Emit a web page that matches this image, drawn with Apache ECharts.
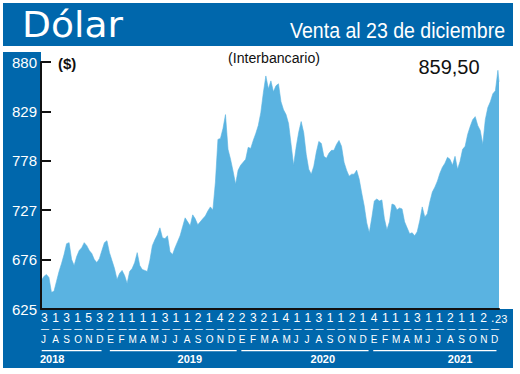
<!DOCTYPE html>
<html><head><meta charset="utf-8">
<script src="https://cdn.jsdelivr.net/npm/echarts@6/dist/echarts.min.js"></script>
<style>html,body{margin:0;padding:0;background:#fff}#c{width:520px;height:374px}</style>
</head><body><div id="c"></div>
<script>
// ---------- DATA ----------
const seriesStart = '2018-07-02';   // first weekly reading
const seriesEnd = '2021-12-23';     // last reading
const weeklyValues = [
654.5, 658.6, 660.6, 657.6, 642.2, 643.2, 653.5, 663.7, 671.9, 681.2,
692.4, 693.5, 676.0, 669.9, 679.1, 685.3, 688.3, 693.5, 690.4, 685.3,
682.2, 676.0, 672.9, 677.0, 685.3, 693.5, 695.5, 683.2, 675.0, 666.8,
655.5, 661.7, 664.8, 659.6, 651.4, 663.7, 666.8, 672.9, 683.2, 669.9,
665.8, 664.8, 663.7, 675.0, 690.4, 696.5, 701.7, 708.8, 698.6, 697.6,
700.6, 684.2, 681.2, 688.3, 694.5, 700.6, 709.9, 719.1, 715.0, 710.9,
722.2, 718.1, 711.9, 715.0, 718.1, 721.1, 726.2, 730.4, 727.3, 756.0,
800.1, 801.1, 811.3, 825.7, 789.8, 779.6, 767.3, 753.9, 768.3, 773.4,
776.5, 779.6, 791.9, 790.8, 799.0, 806.2, 814.4, 827.7, 848.2, 865.6,
852.3, 860.5, 849.2, 855.4, 857.5, 839.0, 830.8, 825.7, 816.5, 794.9,
773.4, 791.9, 807.2, 818.5, 807.2, 784.7, 769.3, 764.2, 772.4, 786.7,
798.0, 795.9, 782.6, 780.6, 785.7, 788.8, 788.8, 794.9, 799.0, 792.9,
776.5, 768.3, 762.1, 764.2, 764.2, 768.3, 759.1, 744.7, 731.4, 713.9,
703.7, 719.1, 736.5, 738.6, 736.5, 737.6, 718.1, 706.8, 715.0, 733.4,
732.4, 727.3, 729.3, 728.3, 715.0, 708.8, 702.7, 703.7, 700.6, 704.7,
716.0, 730.4, 720.1, 723.2, 735.5, 745.7, 750.8, 757.0, 765.2, 771.4,
775.5, 781.6, 779.6, 773.4, 782.6, 769.3, 777.5, 789.8, 792.9, 805.2,
813.4, 820.5, 823.6, 814.4, 809.3, 794.9, 820.5, 832.9, 839.0, 847.2,
850.3, 871.4
];
const lastValue = 859.5;
const lastValueLabel = '859,50';

const yTicks = [625, 676, 727, 778, 829, 880];
const dayLabels = ['3','1','3','1','5','3',
  '2','1','1','1','1','3','1','1','2','1','4','2',
  '2','3','2','1','4','1','1','3','1','1','2','1',
  '4','1','1','1','3','1','1','2','1','1','2','.'];
const endDayLabel = '23';
const monthLetters = ['J','A','S','O','N','D',
  'E','F','M','A','M','J','J','A','S','O','N','D',
  'E','F','M','A','M','J','J','A','S','O','N','D',
  'E','F','M','A','M','J','J','A','S','O','N','D'];
const yearLabels = ['2018','2019','2020','2021'];

const titleText = 'Dólar';
const subtitleText = 'Venta al 23 de diciembre';
const unitText = '($)';
const noteText = '(Interbancario)';

// ---------- BUILD ----------
const DAY = 86400000;
const toTs = s => { const [y,m,d] = s.split('-').map(Number); return Date.UTC(y, m-1, d); };
const t0 = toTs(seriesStart), tEnd = toTs(seriesEnd);
const axisMin = Date.UTC(2018, 6, 1);
const seriesData = weeklyValues.map((v, i) => [t0 + i * 7 * DAY, v]);
seriesData.push([tEnd, lastValue]);

const monthTs = monthLetters.map((_, i) => Date.UTC(2018, 6 + i, 1));
const dayMap = new Map(monthTs.map((t, i) => [t, dayLabels[i]]));
const letterMap = new Map(monthTs.map((t, i) => [t, monthLetters[i]]));
const yearPosTs = [Date.UTC(2018,7,1), Date.UTC(2019,7,18), Date.UTC(2020,7,21), Date.UTC(2021,8,6)];
const yearMap = new Map(yearPosTs.map((t, i) => [t, yearLabels[i]]));
const yearSpans = [
  [Date.UTC(2018,6,3), Date.UTC(2018,11,16)],
  [Date.UTC(2019,0,8), Date.UTC(2019,11,26)],
  [Date.UTC(2020,0,8), Date.UTC(2020,11,26)],
  [Date.UTC(2021,0,8), Date.UTC(2021,11,16)]
];
const endLabelPos = Date.UTC(2021, 11, 12);

const SANS = '"Liberation Sans", Arial, sans-serif';
const BLUE = '#0067ac';
const AREA = '#5ab3e1';
const GRID_BOTTOM_Y = 309;

const measureCtx = document.createElement('canvas').getContext('2d');
function fit(text, font, target) { measureCtx.font = font; return target / measureCtx.measureText(text).width; }

function subAxis(extra) {
  return Object.assign({
    type: 'value', gridIndex: 0, position: 'bottom', min: axisMin, max: tEnd,
    axisLine: {show: false}, axisTick: {show: false}, splitLine: {show: false}, z: 5
  }, extra);
}

const fTitle = '36px "DejaVu Sans", sans-serif';
const fSub = '22px ' + SANS;
const fNote = '15px ' + SANS;
const bands = [
  {type: 'rect', id: 'bTop', z: -10, shape: {x: 3, y: 3, width: 510, height: 43}, style: {fill: BLUE}},
  {type: 'rect', id: 'bLeft', z: -10, shape: {x: 3, y: 52, width: 38, height: 316}, style: {fill: BLUE}},
  {type: 'rect', id: 'bBottom', z: -10, shape: {x: 3, y: GRID_BOTTOM_Y, width: 510, height: 59}, style: {fill: BLUE}},
  {type: 'text', id: 'tTitle', z: 10, x: 22, y: 25, scaleX: fit(titleText, fTitle, 101),
   style: {text: titleText, x: 0, y: 0, fill: '#fff', font: fTitle, textVerticalAlign: 'middle'}},
  {type: 'text', id: 'tSub', z: 10, x: 505, y: 30, scaleX: fit(subtitleText, fSub, 215),
   style: {text: subtitleText, x: 0, y: 0, fill: '#fff', font: fSub, textAlign: 'right', textVerticalAlign: 'middle'}},
  {type: 'text', id: 'tUnit', z: 10, style: {text: unitText, x: 58, y: 63, fill: '#111', font: 'bold 15px ' + SANS, textVerticalAlign: 'middle'}},
  {type: 'text', id: 'tNote', z: 10, x: 274, y: 58, scaleX: fit(noteText, fNote, 92),
   style: {text: noteText, x: 0, y: 0, fill: '#111', font: fNote, textAlign: 'center', textVerticalAlign: 'middle'}},
  {type: 'text', id: 'tLast', z: 10, style: {text: lastValueLabel, x: 449, y: 67, fill: '#111', font: '20px ' + SANS, textAlign: 'center', textVerticalAlign: 'middle'}}
];

const chart = echarts.init(document.getElementById('c'), null, {renderer: 'svg'});
chart.setOption({
  animation: false,
  backgroundColor: '#fff',
  grid: {left: 41, right: 21, top: 62, bottom: 374 - GRID_BOTTOM_Y},
  xAxis: [
    {type: 'value', gridIndex: 0, position: 'bottom', min: axisMin, max: tEnd, z: 5,
     axisLine: {show: true, lineStyle: {color: '#111', width: 2}},
     axisTick: {show: false}, splitLine: {show: false},
     axisLabel: {customValues: monthTs, formatter: v => dayMap.get(v) || '', color: '#fff',
       fontSize: 12, fontFamily: SANS, margin: 3, align: 'left'}},
    subAxis({offset: 15, axisLabel: {customValues: monthTs, formatter: () => '\u2014', margin: 0, align: 'left',
       color: '#fff', fontSize: 8, fontWeight: 'bold', fontFamily: SANS, lineHeight: 9}}),
    subAxis({offset: 25, axisLabel: {customValues: monthTs, formatter: v => letterMap.get(v) || '', color: '#fff',
       fontSize: 10, fontFamily: SANS, margin: 0, align: 'left'}}),
    subAxis({offset: 44, axisLabel: {customValues: yearPosTs, formatter: v => yearMap.get(v) || '', color: '#fff',
       fontSize: 11, fontWeight: 'bold', fontFamily: SANS, margin: 0, align: 'center'}}),
    subAxis({offset: 0, axisLabel: {customValues: [endLabelPos], formatter: () => endDayLabel, color: '#fff',
       fontSize: 11, fontFamily: SANS, margin: 4, align: 'left'}})
  ],
  yAxis: {
    type: 'value', min: yTicks[0], max: yTicks[yTicks.length - 1], interval: yTicks[1] - yTicks[0], z: 5,
    axisLine: {show: true, lineStyle: {color: '#111', width: 2}},
    axisTick: {show: true, inside: true, length: 10, lineStyle: {color: '#111', width: 2}},
    axisLabel: {color: '#fff', fontSize: 15, fontFamily: SANS, margin: 4},
    splitLine: {show: false}
  },
  graphic: {elements: bands},
  series: [{
    type: 'line', xAxisIndex: 0, yAxisIndex: 0, data: seriesData, showSymbol: false,
    lineStyle: {width: 0.6, color: AREA}, areaStyle: {color: AREA, opacity: 1}, z: 2
  }]
});

const px = t => chart.convertToPixel({xAxisIndex: 0}, t);
const lines = yearSpans.map((s, i) => ({type: 'rect', id: 'u' + i, z: 10,
  shape: {x: px(s[0]), y: 350, width: px(s[1]) - px(s[0]), height: 1.3}, style: {fill: '#fff'}}));
chart.setOption({graphic: {elements: bands.concat(lines)}});
</script>
</body></html>
